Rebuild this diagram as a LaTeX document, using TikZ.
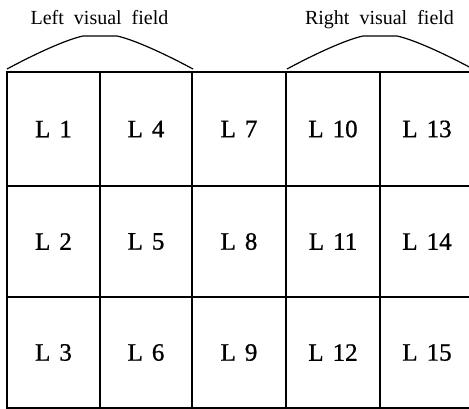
\documentclass[tikz,border=0pt]{standalone}
\usepackage{fontspec}
\setmainfont{Liberation Serif}
\newfontfamily\cellfont[FakeBold=0.8]{Liberation Serif}
\begin{document}
\begin{tikzpicture}[x=1pt,y=-1pt,
  cell/.style={draw, line width=1.6pt, rectangle, inner sep=0pt,
    font=\cellfont\fontsize{25}{25}\selectfont,
    execute at begin node={\spaceskip=9pt\relax}},
  ttl/.style={anchor=base, inner sep=0pt, font=\fontsize{20}{20}\selectfont,
    execute at begin node={\spaceskip=10pt\relax}},
  hump/.style={line width=1.2pt}]
\useasboundingbox (0,0) rectangle (469,409);
\clip (0,0) rectangle (469,409);
\foreach \c/\x/\w in {0/53.5/93, 1/146/92, 2/239/94, 3/333/94, 4/427/94}
  \foreach \r/\y/\h in {0/129/114, 1/241.5/111, 2/352.5/111} {
    \pgfmathtruncatemacro\n{3*\c+\r+1}
    \node[cell, minimum width=\w pt, minimum height=\h pt] (L\n) at (\x,\y) {L \n};
  }
\draw[hump] (7,69) .. controls (35,54) and (65,40) .. (83,36) -- (117,36)
  .. controls (135,40) and (165,54) .. (193,69);
\draw[hump] (287,69) .. controls (315,54) and (345,40) .. (363,36) -- (397,36)
  .. controls (415,40) and (445,54) .. (473,69);
\node[ttl] (lvf) at (99.5,25) {Left visual field};
\node[ttl] (rvf) at (379.5,25) {Right visual field};
\end{tikzpicture}
\end{document}
